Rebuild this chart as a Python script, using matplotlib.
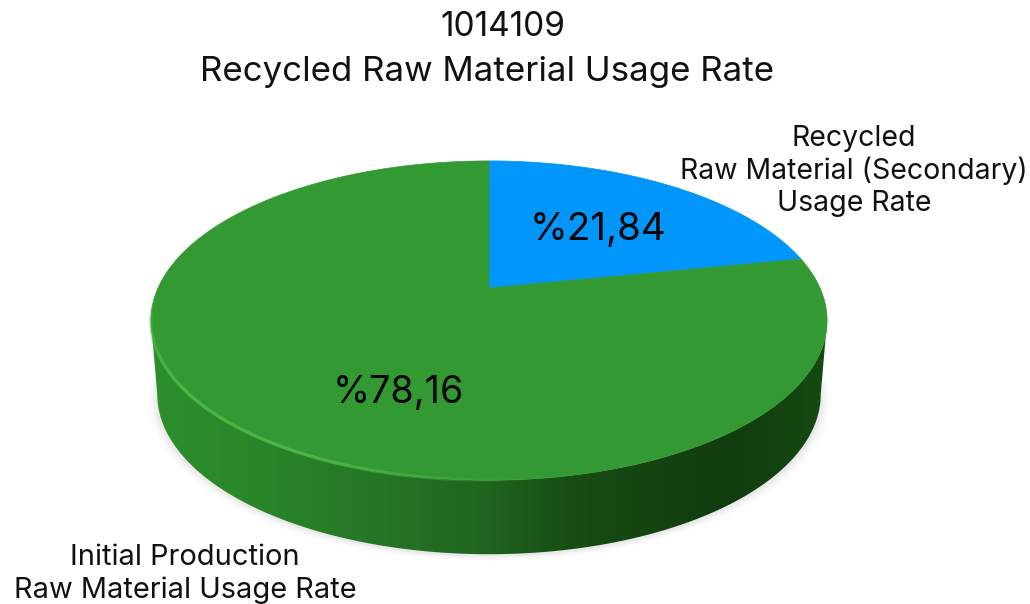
import numpy as np
import matplotlib
matplotlib.use("Agg")
import matplotlib.pyplot as plt
from matplotlib.collections import LineCollection
from matplotlib.colors import LinearSegmentedColormap, to_rgba
from matplotlib.patches import Polygon

plt.rcParams['font.family'] = ['Inter', 'DejaVu Sans']

# data
title_lines = ["1014109", "Recycled Raw Material Usage Rate"]
shares = [21.84, 78.16]
share_labels = ["%21,84", "%78,16"]
share_colors = ["#0096fb", "#339933"]
cat_labels = ["Recycled\nRaw Material (Secondary)\nUsage Rate",
              "Initial Production\nRaw Material Usage Rate"]

# disc drawn in perspective, everything in picture pixels
CX, CY = 489, 288
PERSP = 0.204
SCALE_X, SCALE_Y = 331, 153
DEPTH = 74
LOW_SCALE = 0.981


def project(theta, dx_scale=1.0, dy=0):
    # theta is clockwise from 12 o'clock on the unit circle
    x, y = np.sin(theta), np.cos(theta)
    w = 1 + PERSP * y
    return CX + dx_scale * SCALE_X * x / w, CY - SCALE_Y * y / w + dy


def slice_poly(start, end):
    t = np.radians(np.linspace(start, end, 200))
    xs, ys = project(t)
    return np.column_stack([np.r_[CX, xs], np.r_[CY, ys]])


fig = plt.figure(figsize=(10.3, 6.04), dpi=100)
ax = fig.add_axes([0, 0, 1, 1])
ax.axis("off")

t_all = np.radians(np.linspace(0, 360, 400))

# soft shadow under the disc
for grow, alpha in zip([10, 8, 6, 4, 2], [0.01, 0.015, 0.02, 0.03, 0.04]):
    xs, ys = project(t_all, LOW_SCALE, DEPTH + 1)
    xs = CX + (xs - CX) * (1 + grow / 340)
    ys = ys + grow * 0.6
    ax.add_patch(Polygon(np.column_stack([xs, ys]), closed=True, fc="#555555",
                         ec="none", alpha=alpha, zorder=1))

# side wall, from the widest point of the top outline down to the lower outline
t_side = np.radians(np.linspace(101.8, 258.2, 300))
wall_top = np.column_stack(project(t_side))
wall_low = np.column_stack(project(t_side[::-1], LOW_SCALE, DEPTH))
wall_patch = Polygon(np.vstack([wall_top, wall_low]), closed=True, fc="none", ec="none", zorder=2)
ax.add_patch(wall_patch)
wall_cmap = LinearSegmentedColormap.from_list("wall", [
    (0.00, "#2c8f2c"), (0.15, "#2a862a"), (0.35, "#257426"), (0.50, "#1f641f"),
    (0.62, "#174d14"), (0.85, "#113c0e"), (1.00, "#154a12")])
ramp = np.linspace(0, 1, 256).reshape(1, -1)
img = ax.imshow(ramp, cmap=wall_cmap, extent=[151, 827, 570, 200], aspect="auto", zorder=2)
img.set_clip_path(wall_patch)

# top face
angles = np.cumsum([0] + shares) * 3.6
for start, end, col in zip(angles[:-1], angles[1:], share_colors):
    ax.add_patch(Polygon(slice_poly(start, end), closed=True, fc=col, ec=col, lw=0.5, zorder=3))

# light rim along the front left edge, fades out towards the right
t_rim = np.radians(np.linspace(265, 175, 160))
rx, ry = project(t_rim)
pts = np.column_stack([rx, ry]).reshape(-1, 1, 2)
segs = np.concatenate([pts[:-1], pts[1:]], axis=1)
fade = np.clip(np.sin(np.linspace(0.15, np.pi, len(segs))) * 1.1, 0, 1)
rim_rgba = np.tile(to_rgba("#50bb48"), (len(segs), 1))
rim_rgba[:, 3] = fade * 0.9
ax.add_collection(LineCollection(segs, colors=rim_rgba, linewidths=2.4, zorder=4))

ax.set_xlim(0, 1030)
ax.set_ylim(604, 0)

# texts
ax.text(503, 27, title_lines[0], ha="center", va="center", fontsize=24, color="#111111", zorder=5)
ax.text(487, 72, title_lines[1], ha="center", va="center", fontsize=25.1, color="#111111", zorder=5)
ax.text(598.5, 230, share_labels[0], ha="center", va="center", fontsize=27.7, color="#050505", zorder=5)
ax.text(398.5, 393, share_labels[1], ha="center", va="center", fontsize=27.2, color="#050505", zorder=5)
ax.text(854, 171, cat_labels[0], ha="center", va="center", fontsize=20.5, color="#111111",
        linespacing=1.24, zorder=5)
ax.text(185, 574, cat_labels[1], ha="center", va="center", fontsize=20.9, color="#111111",
        linespacing=1.21, zorder=5)

fig.savefig("out.png", dpi=100, facecolor="white")
